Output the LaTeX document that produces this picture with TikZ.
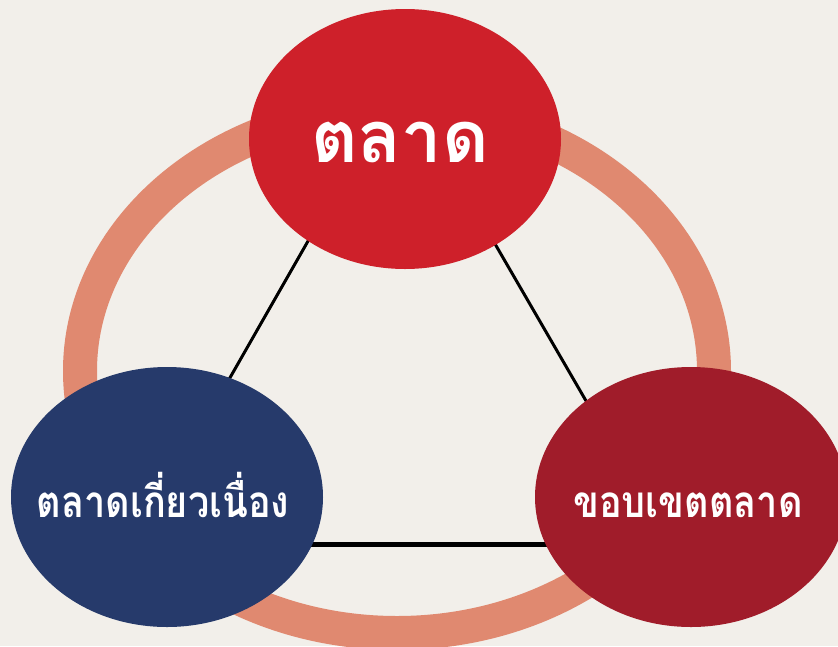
\documentclass[tikz,border=0pt]{standalone}
\usepackage{fontspec}
\newfontfamily\thaifont[Script=Thai]{Loma}
\newfontfamily\thainarrow[Script=Thai,FakeStretch=0.86]{Loma}
\usetikzlibrary{shapes.geometric}
\definecolor{bg}{RGB}{242,239,234}
\definecolor{ringc}{RGB}{224,137,112}
\definecolor{topred}{RGB}{206,32,42}
\definecolor{navy}{RGB}{38,58,107}
\definecolor{darkred}{RGB}{160,28,42}
\tikzset{
  ring/.style={draw=ringc, line width=34},
  tri/.style={draw=black, line width=3},
  bubble/.style={ellipse, minimum width=312, minimum height=260, inner sep=0pt, draw=none},
  lbl/.style={text=white, inner sep=0pt, anchor=base}
}
\begin{document}
\begin{tikzpicture}[x=1pt,y=-1pt]
\useasboundingbox (0,0) rectangle (838,646);
\clip (0,0) rectangle (838,646);
\fill[bg] (0,0) rectangle (838,646);
\draw[ring] (397,371) ellipse [x radius=317, y radius=262];
\coordinate (tA) at (400,80);
\coordinate (tB) at (135,544);
\coordinate (tC) at (669,544);
\draw[tri] (tA) -- (tB);
\draw[tri] (tA) -- (tC);
\draw[tri, line width=5] (tB) -- (tC);
\node[bubble, fill=topred] (market) at (405,139) {};
\node[bubble, fill=navy] (related) at (167,497) {};
\node[bubble, fill=darkred] (bound) at (691,497) {};
\node[lbl, font=\thaifont\bfseries\fontsize{72}{80}\selectfont] (marketT) at (400,162) {ตลาด};
\node[lbl, font=\thainarrow\bfseries\fontsize{44}{50}\selectfont] (relatedT) at (163,517) {ตลาดเกี่ยวเนื่อง};
\node[lbl, font=\thainarrow\bfseries\fontsize{44}{50}\selectfont] (boundT) at (688,517) {ขอบเขตตลาด};
\end{tikzpicture}
\end{document}
